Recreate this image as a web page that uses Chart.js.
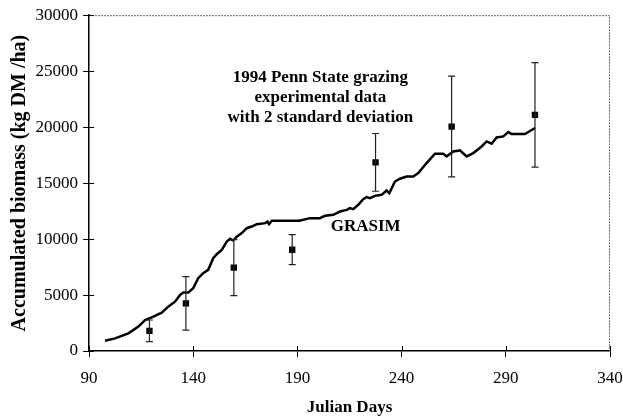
<!DOCTYPE html>
<html>
<head>
<meta charset="utf-8">
<script src="https://cdn.jsdelivr.net/npm/chart.js@4/dist/chart.umd.min.js"></script>
<style>
  html, body { margin: 0; padding: 0; background: #fff; }
  #wrap { width: 623px; height: 419px; }
</style>
</head>
<body>
<div id="wrap"><canvas id="chart"></canvas></div>
<script>
// GRASIM simulated accumulated biomass (kg DM/ha) by Julian day
const simDays = [97.7, 102.5, 108.9, 113.7, 116.9, 120.1, 124.9, 128, 131.3, 133.7, 135.3, 137.6, 140, 142.4, 144.8,
    147.2, 149.6, 151.3, 153.7, 156.1, 157.7, 159.2, 160.9, 163.3, 165.7, 168.1, 170.5, 174.5, 175.6, 176.4, 177.7,
    191, 196, 200.8, 203.2, 207.2, 210.4, 213.7, 215.2, 216.8, 219.2, 221.6, 223.2, 224.8, 227.2, 230.4, 232.8,
    234.1, 236.8, 239.2, 242.4, 245.6, 248, 252, 256, 260, 261.6, 264.8, 268, 271.2, 274.4, 278.4, 280.8, 283.2,
    285.6, 288.8, 291.2, 292.8, 299.2, 304];
const simBiomass = [920, 1130, 1580, 2180, 2770, 3010, 3430, 3960, 4410, 5010, 5220, 5220, 5610, 6500, 6950,
    7250, 8290, 8650, 9030, 9780, 10020, 9870, 10220, 10530, 10970, 11120, 11330, 11420, 11570, 11330, 11630,
    11630, 11870, 11870, 12080, 12170, 12460, 12610, 12760, 12670, 13060, 13570, 13750, 13660, 13860, 13950, 14340,
    14110, 15140, 15390, 15590, 15590, 15890, 16790, 17620, 17620, 17380, 17830, 17920, 17380, 17680, 18270, 18720, 18520,
    19080, 19170, 19560, 19380, 19380, 19920];

// 1994 Penn State grazing experiment: mean and 2 standard deviations
const obsDays = [119, 136.5, 159.5, 187.5, 227.5, 264, 304];
const obsMean = [1800, 4250, 7450, 9050, 16850, 20050, 21100];
const obsErr = [970, 2390, 2500, 1340, 2580, 4500, 4670];

const xTicks = [90, 140, 190, 240, 290, 340];
const yTicks = [0, 5000, 10000, 15000, 20000, 25000, 30000];

const noteLines = ['1994 Penn State grazing', 'experimental data', 'with 2 standard deviation'];
const noteAt = { x: 201, y: 24400 };
const simLabel = 'GRASIM';
const simLabelAt = { x: 206, y: 11150 };

const serif = "'Liberation Serif', 'Times New Roman', serif";

const extras = {
    id: 'extras',
    afterDatasetsDraw(chart) {
        const ctx = chart.ctx;
        const xs = chart.scales.x, ys = chart.scales.y;

        // error bars
        ctx.save();
        ctx.strokeStyle = '#222';
        ctx.lineWidth = 1.2;
        obsDays.forEach((d, i) => {
            const px = xs.getPixelForValue(d);
            const top = ys.getPixelForValue(obsMean[i] + obsErr[i]);
            const bot = ys.getPixelForValue(obsMean[i] - obsErr[i]);
            ctx.beginPath();
            ctx.moveTo(px, top); ctx.lineTo(px, bot);
            ctx.moveTo(px - 3.5, top); ctx.lineTo(px + 3.5, top);
            ctx.moveTo(px - 3.5, bot); ctx.lineTo(px + 3.5, bot);
            ctx.stroke();
        });
        ctx.restore();
    },
    afterDraw(chart) {
        const ctx = chart.ctx;
        const xs = chart.scales.x, ys = chart.scales.y;
        const area = chart.chartArea;
        ctx.save();

        // top and right frame, faint dotted like the scan
        ctx.strokeStyle = '#666';
        ctx.lineWidth = 1;
        ctx.setLineDash([2, 1]);
        ctx.beginPath();
        ctx.moveTo(area.left, area.top + 0.5);
        ctx.lineTo(area.right - 0.5, area.top + 0.5);
        ctx.lineTo(area.right - 0.5, area.bottom);
        ctx.stroke();
        ctx.setLineDash([]);

        // inner part of the tick marks
        ctx.strokeStyle = '#000';
        ctx.beginPath();
        xTicks.forEach(v => {
            const px = Math.round(xs.getPixelForValue(v)) + 0.5;
            ctx.moveTo(px, area.bottom);
            ctx.lineTo(px, area.bottom - 5);
        });
        yTicks.forEach(v => {
            const py = Math.round(ys.getPixelForValue(v)) + 0.5;
            ctx.moveTo(area.left, py);
            ctx.lineTo(area.left + 5, py);
        });
        ctx.stroke();

        // annotations
        ctx.fillStyle = '#000';
        ctx.textAlign = 'center';
        ctx.textBaseline = 'middle';
        ctx.font = 'bold 17px ' + serif;
        const nx = xs.getPixelForValue(noteAt.x);
        const ny = ys.getPixelForValue(noteAt.y);
        noteLines.forEach((t, i) => ctx.fillText(t, nx, ny + i * 20));

        ctx.textAlign = 'left';
        ctx.font = 'bold 17px ' + serif;
        ctx.fillText(simLabel, xs.getPixelForValue(simLabelAt.x), ys.getPixelForValue(simLabelAt.y));
        ctx.restore();
    }
};

new Chart(document.getElementById('chart'), {
    type: 'scatter',
    data: {
        datasets: [{
            type: 'line',
            label: 'GRASIM',
            data: simDays.map((d, i) => ({ x: d, y: simBiomass[i] })),
            borderColor: '#000',
            borderWidth: 2.5,
            pointRadius: 0,
            tension: 0,
            fill: false
        }, {
            label: 'Experimental',
            data: obsDays.map((d, i) => ({ x: d, y: obsMean[i] })),
            pointStyle: 'rect',
            pointRadius: 4.5,
            backgroundColor: '#000',
            borderColor: '#000',
            borderWidth: 0
        }]
    },
    options: {
        responsive: true,
        maintainAspectRatio: false,
        animation: false,
        layout: { padding: { top: 15, right: 0, left: 0, bottom: 0 } },
        plugins: {
            legend: { display: false },
            tooltip: { enabled: false }
        },
        scales: {
            x: {
                type: 'linear',
                min: 90,
                max: 340,
                afterBuildTicks: s => { s.ticks = xTicks.map(v => ({ value: v })); },
                afterFit: s => { s.height = 68; s.paddingLeft = 0; s.paddingRight = 13; },
                grid: { drawOnChartArea: false, tickLength: 6, color: '#000' },
                border: { color: '#000', width: 1.5 },
                ticks: {
                    color: '#000',
                    font: { family: serif, size: 17 },
                    padding: 11,
                    callback: v => String(v)
                },
                title: {
                    display: true,
                    text: 'Julian Days',
                    color: '#000',
                    font: { family: serif, size: 17, weight: 'bold' },
                    padding: { bottom: 1 }
                }
            },
            y: {
                min: 0,
                max: 30000,
                afterBuildTicks: s => { s.ticks = yTicks.map(v => ({ value: v })); },
                afterFit: s => { s.width = 89; },
                grid: { drawOnChartArea: false, tickLength: 6, color: '#000' },
                border: { color: '#000', width: 1.5 },
                ticks: {
                    color: '#000',
                    font: { family: serif, size: 17 },
                    padding: 5,
                    callback: v => String(v)
                },
                title: {
                    display: true,
                    text: 'Accumulated biomass (kg DM /ha)',
                    color: '#000',
                    font: { family: serif, size: 20, weight: 'bold' },
                    padding: { top: 8 }
                }
            }
        }
    },
    plugins: [extras]
});
</script>
</body>
</html>
